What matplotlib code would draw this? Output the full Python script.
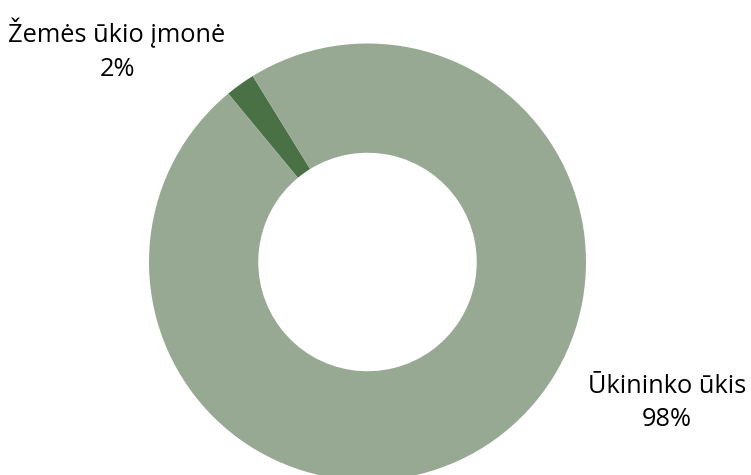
import matplotlib
import matplotlib.pyplot as plt

matplotlib.use("Agg")

labels = ["Žemės ūkio įmonė", "Ūkininko ūkis"]
shares = [2.2, 97.8]
colors = ["#4a7045", "#97a992"]

W, H = 751, 475
cx, cy, r = 367.5, 213.0, 218.5  # centre and outer radius in pixels (from bottom-left)

fig = plt.figure(figsize=(W / 100, H / 100), dpi=100)
ax = fig.add_axes([0, 0, 1, 1])
ax.pie(shares, colors=colors, startangle=129.6, counterclock=False,
       radius=1, wedgeprops=dict(width=0.5, linewidth=0))
ax.set_xlim(-cx / r, (W - cx) / r)
ax.set_ylim(-cy / r, (H - cy) / r)
ax.set_aspect("equal")
ax.axis("off")

font = dict(family=["Open Sans", "DejaVu Sans"], fontsize=18.3, color="#000000",
            ha="center", va="center", linespacing=1.45)
ax.text((117 - cx) / r, (H - 50 - cy) / r, f"{labels[0]}\n{shares[0]:.0f}%", **font)
ax.text((667 - cx) / r, (H - 403 - cy) / r, f"{labels[1]}\n{shares[1]:.0f}%", **font)

fig.savefig("out.png", dpi=100)
